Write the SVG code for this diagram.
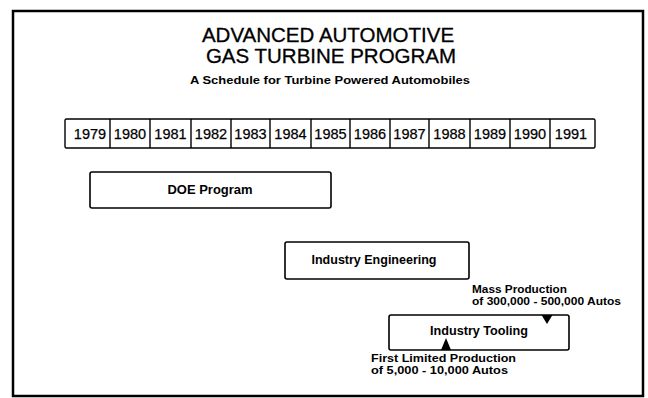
<svg xmlns="http://www.w3.org/2000/svg" width="648" height="398" viewBox="0 0 648 398">
<style>
  .frame { fill: none; stroke: #000; stroke-width: 2.5; }
  .box { fill: #fff; stroke: #000; stroke-width: 1.6; }
  .year { fill: none; stroke: #000; stroke-width: 1.4; }
  .title { font-family: "Liberation Sans", Arial, sans-serif; font-size: 20.5px; fill: #000; stroke: #000; stroke-width: 0.3; text-anchor: middle; }
  .sub { font-family: "Liberation Sans", Arial, sans-serif; font-size: 11px; font-weight: bold; fill: #000; text-anchor: middle; }
  .yr { font-family: "Liberation Sans", Arial, sans-serif; font-size: 14.5px; fill: #000; stroke: #000; stroke-width: 0.25; text-anchor: middle; }
  .lbl { font-family: "Liberation Sans", Arial, sans-serif; font-size: 12px; font-weight: bold; fill: #000; text-anchor: middle; }
  .note { font-family: "Liberation Sans", Arial, sans-serif; font-size: 10px; font-weight: bold; fill: #000; }
  .tri { fill: #000; }
</style>
<rect width="648" height="398" fill="#fff"/>
<rect class="frame" x="13" y="11" width="630" height="385"/>

<g id="title">
  <text class="title" x="328" y="42">ADVANCED AUTOMOTIVE</text>
  <text class="title" x="331" y="63">GAS TURBINE PROGRAM</text>
  <text class="sub" x="330" y="84" textLength="280" lengthAdjust="spacingAndGlyphs">A Schedule for Turbine Powered Automobiles</text>
</g>

<g id="years">
  <rect class="year" x="65" y="119" width="530" height="29" rx="1.5"/>
  <path class="year" d="M110 119V148M150 119V148M191 119V148M231 119V148M270 119V148M311 119V148M350 119V148M390 119V148M429 119V148M470 119V148M510 119V148M550 119V148"/>
  <text class="yr" x="90" y="138.5">1979</text>
  <text class="yr" x="130" y="138.5">1980</text>
  <text class="yr" x="170.5" y="138.5">1981</text>
  <text class="yr" x="211" y="138.5">1982</text>
  <text class="yr" x="250.5" y="138.5">1983</text>
  <text class="yr" x="290.5" y="138.5">1984</text>
  <text class="yr" x="330.5" y="138.5">1985</text>
  <text class="yr" x="370" y="138.5">1986</text>
  <text class="yr" x="409.5" y="138.5">1987</text>
  <text class="yr" x="449.5" y="138.5">1988</text>
  <text class="yr" x="490" y="138.5">1989</text>
  <text class="yr" x="530" y="138.5">1990</text>
  <text class="yr" x="571" y="138.5">1991</text>
</g>

<g id="doe-program">
  <rect class="box" x="90" y="172" width="241" height="36" rx="2"/>
  <text class="lbl" x="210" y="194" textLength="85" lengthAdjust="spacingAndGlyphs">DOE Program</text>
</g>

<g id="industry-engineering">
  <rect class="box" x="285" y="242" width="184" height="37" rx="2"/>
  <text class="lbl" x="374" y="264" textLength="125" lengthAdjust="spacingAndGlyphs">Industry Engineering</text>
</g>

<g id="industry-tooling">
  <rect class="box" x="389" y="315" width="180" height="35" rx="2"/>
  <text class="lbl" x="479" y="335" textLength="98" lengthAdjust="spacingAndGlyphs">Industry Tooling</text>
</g>

<g id="milestones">
  <polygon class="tri" points="541.5,315 552.5,315 547,324"/>
  <polygon class="tri" points="441,350 451,350 446,338"/>
  <text class="note" x="472" y="293" textLength="95" lengthAdjust="spacingAndGlyphs">Mass Production</text>
  <text class="note" x="472" y="305" textLength="149" lengthAdjust="spacingAndGlyphs">of 300,000 - 500,000 Autos</text>
  <text class="note" x="371" y="362" textLength="145" lengthAdjust="spacingAndGlyphs">First Limited Production</text>
  <text class="note" x="371" y="374" textLength="137" lengthAdjust="spacingAndGlyphs">of 5,000 - 10,000 Autos</text>
</g>
</svg>
